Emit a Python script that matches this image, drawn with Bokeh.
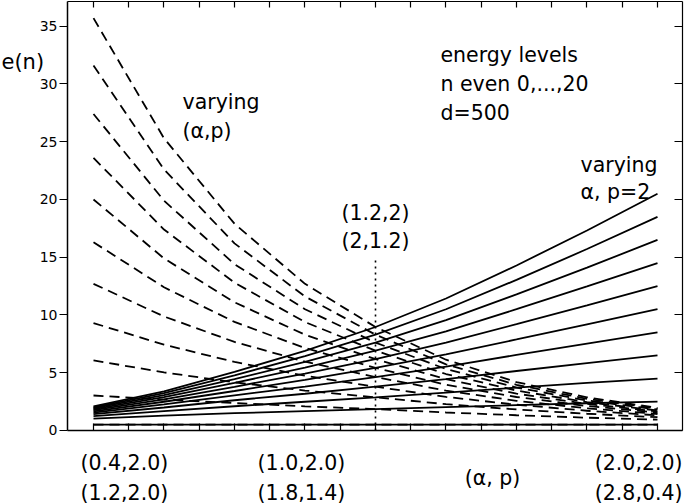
from bokeh.plotting import figure
from bokeh.models import FixedTicker, LinearAxis, Label, Range1d
from bokeh.embed import file_html
from bokeh.resources import INLINE

# ---------------- data ----------------
# x positions: alpha of the solid family (p = 2); dashed family shares the same axis
alpha = [0.4, 0.6, 0.8, 1.0, 1.2, 1.4, 1.6, 1.8, 2.0]
alpha_ticks = [0.4, 0.5, 0.6, 0.7, 0.8, 0.9, 1.0, 1.1, 1.2, 1.3, 1.4,
               1.5, 1.6, 1.7, 1.8, 1.9, 2.0]
y_ticks = [0, 5, 10, 15, 20, 25, 30, 35]

# varying alpha, p = 2 (solid), n = 20, 18, ..., 0
solid_n20 = [2.08, 3.39, 5.08, 6.89, 8.96, 11.43, 14.29, 17.32, 20.5]
solid_n18 = [2.01, 3.23, 4.78, 6.44, 8.30, 10.50, 13.04, 15.71, 18.5]
solid_n16 = [1.93, 3.07, 4.45, 5.95, 7.61, 9.56, 11.78, 14.10, 16.5]
solid_n14 = [1.85, 2.89, 4.12, 5.45, 6.91, 8.59, 10.50, 12.47, 14.5]
solid_n12 = [1.76, 2.70, 3.78, 4.93, 6.18, 7.60, 9.21, 10.83, 12.5]
solid_n10 = [1.66, 2.49, 3.42, 4.38, 5.42, 6.59, 7.88, 9.19, 10.5]
solid_n8 = [1.55, 2.26, 3.05, 3.80, 4.63, 5.53, 6.54, 7.52, 8.5]
solid_n6 = [1.42, 1.99, 2.62, 3.18, 3.79, 4.44, 5.15, 5.83, 6.5]
solid_n4 = [1.25, 1.68, 2.10, 2.49, 2.87, 3.28, 3.71, 4.12, 4.5]
solid_n2 = [1.03, 1.28, 1.50, 1.68, 1.85, 2.02, 2.20, 2.36, 2.5]
solid_n0 = [0.5, 0.5, 0.5, 0.5, 0.5, 0.5, 0.5, 0.5, 0.5]

# varying (alpha, p) (dashed), n = 20, 18, ..., 0
dash_n20 = [35.7, 25.3, 17.9, 12.7, 8.96, 6.13, 4.19, 2.87, 1.96]
dash_n18 = [31.6, 22.6, 16.2, 11.6, 8.30, 5.73, 3.96, 2.74, 1.89]
dash_n16 = [27.4, 19.9, 14.4, 10.5, 7.61, 5.32, 3.72, 2.60, 1.82]
dash_n14 = [23.6, 17.4, 12.8, 9.39, 6.91, 4.89, 3.46, 2.45, 1.73]
dash_n12 = [20.0, 14.9, 11.1, 8.29, 6.18, 4.44, 3.19, 2.30, 1.65]
dash_n10 = [16.3, 12.4, 9.40, 7.14, 5.42, 3.96, 2.90, 2.12, 1.55]
dash_n8 = [12.7, 9.87, 7.67, 5.96, 4.63, 3.45, 2.57, 1.92, 1.43]
dash_n6 = [9.3, 7.43, 5.94, 4.74, 3.79, 2.91, 2.23, 1.71, 1.31]
dash_n4 = [6.07, 5.03, 4.17, 3.46, 2.87, 2.28, 1.82, 1.45, 1.15]
dash_n2 = [3.03, 2.68, 2.37, 2.09, 1.85, 1.56, 1.32, 1.11, 0.94]
dash_n0 = [0.5, 0.5, 0.5, 0.5, 0.5, 0.5, 0.5, 0.5, 0.5]

solid_series = [solid_n20, solid_n18, solid_n16, solid_n14, solid_n12, solid_n10,
                solid_n8, solid_n6, solid_n4, solid_n2, solid_n0]
dash_series = [dash_n20, dash_n18, dash_n16, dash_n14, dash_n12, dash_n10,
               dash_n8, dash_n6, dash_n4, dash_n2, dash_n0]

# duality point marker (alpha = 1.2) and its height
mark_alpha = 1.2
mark_top = 15.0

# tick-label texts
xlab_left = ["(0.4,2.0)", "(1.2,2.0)"]
xlab_mid = ["(1.0,2.0)", "(1.8,1.4)"]
xlab_right = ["(2.0,2.0)", "(2.8,0.4)"]

FONT = "DejaVu Sans"

# plotting box (data units) and whole-canvas view
x_left, x_right = 0.3262, 2.0709
y_bottom, y_top = 0.0, 37.14

# ---------------- figure ----------------
p = figure(width=687, height=504,
           x_range=Range1d(0.13617, 2.08511), y_range=Range1d(-6.4069, 37.229),
           x_axis_location=None, y_axis_location=None,
           output_backend="svg", toolbar_location=None,
           min_border_left=0, min_border_right=0, min_border_top=0, min_border_bottom=0)
p.title.visible = False
p.grid.visible = False
p.outline_line_color = None
p.background_fill_color = "white"
p.border_fill_color = "white"

bottom_axis = LinearAxis(fixed_location=y_bottom, bounds=(x_left, x_right),
                         ticker=FixedTicker(ticks=[], minor_ticks=alpha_ticks),
                         major_tick_in=0, major_tick_out=0,
                         minor_tick_in=7, minor_tick_out=0,
                         minor_tick_line_color="black", minor_tick_line_width=1.2,
                         axis_line_width=1.5)
p.add_layout(bottom_axis, "below")

left_axis = LinearAxis(fixed_location=x_left, bounds=(y_bottom, y_top),
                       ticker=FixedTicker(ticks=y_ticks),
                       major_tick_in=0, major_tick_out=8,
                       minor_tick_in=0, minor_tick_out=0,
                       major_tick_line_width=1.2,
                       major_label_text_font=FONT, major_label_text_font_size="14px",
                       major_label_text_color="black", major_label_standoff=2,
                       axis_line_width=1.5)
p.add_layout(left_axis, "left")

top_axis = LinearAxis(fixed_location=y_top, bounds=(x_left, x_right),
                      ticker=FixedTicker(ticks=[], minor_ticks=alpha_ticks),
                      major_tick_in=0, major_tick_out=0,
                      minor_tick_in=6, minor_tick_out=0,
                      minor_tick_line_color="black", minor_tick_line_width=1.2,
                      axis_line_width=1.2)
p.add_layout(top_axis, "above")

right_axis = LinearAxis(fixed_location=x_right, bounds=(y_bottom, y_top),
                        ticker=FixedTicker(ticks=[], minor_ticks=y_ticks),
                        major_tick_in=0, major_tick_out=0,
                        minor_tick_in=8, minor_tick_out=0,
                        minor_tick_line_color="black", minor_tick_line_width=1.2,
                        axis_line_width=1.2)
p.add_layout(right_axis, "right")

for ys in dash_series:
    p.line(alpha, ys, line_color="black", line_width=1.8, line_dash="10 6")
for ys in solid_series:
    p.line(alpha, ys, line_color="black", line_width=1.8)

p.line([mark_alpha, mark_alpha], [0, mark_top], line_color="black", line_width=1.6,
       line_dash="2 4")


def lab(x, y, text, size="20.5px", align="left"):
    p.add_layout(Label(x=x, y=y, text=text, text_font=FONT, text_font_size=size,
                       text_align=align, text_baseline="alphabetic", text_color="black"))


lab(0.1390, 31.89, "e(n)", size="21px")
lab(0.6525, 28.40, "varying")
lab(0.6525, 25.89, "(\u03b1,p)")
lab(1.3844, 32.47, "energy levels")
lab(1.3844, 30.00, "n even 0,...,20")
lab(1.3844, 27.53, "d=500")
lab(1.7816, 23.03, "varying")
lab(1.7816, 20.61, "\u03b1, p=2")
lab(mark_alpha, 18.79, "(1.2,2)", align="center")
lab(mark_alpha, 16.45, "(2,1.2)", align="center")
lab(1.5319, -4.07, "(\u03b1, p)", align="center")
lab(0.3631, -2.857, xlab_left[0])
lab(0.3631, -5.368, xlab_left[1])
lab(0.990, -2.857, xlab_mid[0], align="center")
lab(0.990, -5.368, xlab_mid[1], align="center")
lab(x_right, -2.857, xlab_right[0], align="right")
lab(x_right, -5.368, xlab_right[1], align="right")

open("out.html", "w").write(file_html(p, INLINE))
